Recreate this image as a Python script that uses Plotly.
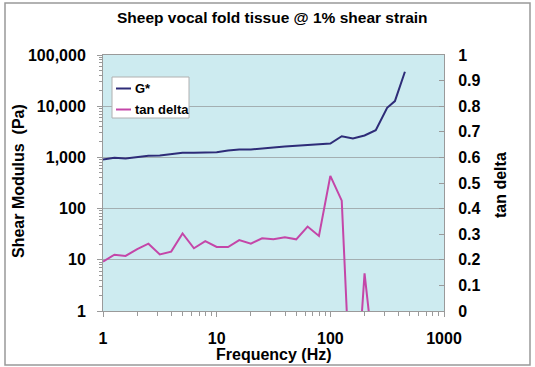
import plotly.graph_objects as go

# ---- data ----
freq_g = [1, 1.26, 1.58, 2, 2.51, 3.16, 3.98, 5.01, 6.31, 7.94, 10, 12.6, 15.8, 20,
          25.1, 31.6, 39.8, 50.1, 63.1, 79.4, 100, 126, 158, 200, 251, 316, 370, 453]
g_star = [910, 983, 952, 1024, 1072, 1089, 1140, 1230, 1230, 1250, 1260, 1365, 1427, 1427,
          1510, 1560, 1630, 1690, 1760, 1810, 1860, 2590, 2340, 2680, 3390, 9300, 12600, 47000]
freq_td = [1, 1.26, 1.58, 2, 2.51, 3.16, 3.98, 5.01, 6.31, 7.94, 10, 12.6, 15.8, 20,
           25.1, 31.6, 39.8, 50.1, 63.1, 79.4, 100, 126, 158, 200, 251]
tan_delta = [0.193, 0.22, 0.215, 0.242, 0.263, 0.221, 0.232, 0.303, 0.245, 0.273, 0.25, 0.25,
             0.277, 0.263, 0.284, 0.28, 0.288, 0.28, 0.33, 0.293, 0.528, 0.431, -0.53, 0.147, -0.25]
g_ticks = [1, 10, 100, 1000, 10000, 100000]
g_tick_text = ["1", "10", "100", "1,000", "10,000", "100,000"]
x_ticks = [1, 10, 100, 1000]
x_tick_text = ["1", "10", "100", "1000"]

G_COLOR = "#2E2C78"
TD_COLOR = "#C446A8"
AX = "#9A9A9A"
FONT = "Liberation Sans, Arial, sans-serif"

W, H = 535, 367
L, R, T, B = 103, 444, 55, 311
pw, ph = R - L, B - T


def px(x):
    return (x - L) / pw


def py(y):
    return (B - y) / ph


fig = go.Figure()
fig.add_trace(go.Scatter(x=freq_g, y=g_star, mode="lines", name="G*",
                         line=dict(color=G_COLOR, width=2), showlegend=False))
fig.add_trace(go.Scatter(x=freq_td, y=tan_delta, mode="lines", name="tan delta",
                         line=dict(color=TD_COLOR, width=2), yaxis="y2", showlegend=False))

tickfont = dict(family=FONT, size=16, color="#000", weight="bold")

fig.update_layout(
    width=W, height=H,
    margin=dict(l=L, r=W - R, t=T, b=H - B),
    paper_bgcolor="white",
    plot_bgcolor="#CDEBF0",
    xaxis=dict(type="log", range=[0, 3], tickvals=x_ticks, ticktext=x_tick_text,
               ticks="outside", ticklen=5, tickcolor=AX, showline=True, linecolor=AX,
               linewidth=1, mirror=True, showgrid=False, zeroline=False,
               tickfont=tickfont, ticklabelstandoff=8,
               minor=dict(ticks="outside", ticklen=4, tickcolor=AX, dtick="D1", showgrid=False)),
    yaxis=dict(type="log", range=[0, 5], tickvals=g_ticks, ticktext=g_tick_text,
               ticks="outside", ticklen=5, tickcolor=AX, showline=True, linecolor=AX,
               linewidth=1, showgrid=True, gridcolor="#A3AFB2", gridwidth=1,
               zeroline=False, tickfont=tickfont, ticklabelstandoff=8,
               minor=dict(ticks="outside", ticklen=3, tickcolor=AX, dtick="D1", showgrid=False)),
    yaxis2=dict(overlaying="y", side="right", range=[0, 1], dtick=0.1,
                ticks="inside", ticklen=5, tickcolor=AX, showline=True, linecolor=AX,
                linewidth=1, showgrid=False, zeroline=False, tickfont=tickfont,
                ticklabelstandoff=10),
)

ann = []
ann.append(dict(text="Sheep vocal fold tissue @ 1% shear strain", x=px(272), y=py(17),
                xref="paper", yref="paper", showarrow=False, xanchor="center", yanchor="middle",
                font=dict(family=FONT, size=15.5, color="#000", weight="bold")))
ann.append(dict(text="Shear Modulus  (Pa)", x=px(18), y=py(181), xref="paper", yref="paper",
                showarrow=False, textangle=-90, xanchor="center", yanchor="middle",
                font=dict(family=FONT, size=16, color="#000", weight="bold")))
ann.append(dict(text="tan delta", x=px(500), y=py(185), xref="paper", yref="paper",
                showarrow=False, textangle=-90, xanchor="center", yanchor="middle",
                font=dict(family=FONT, size=16, color="#000", weight="bold")))
ann.append(dict(text="Frequency (Hz)", x=px(274), y=py(354), xref="paper", yref="paper",
                showarrow=False, xanchor="center", yanchor="middle",
                font=dict(family=FONT, size=16, color="#000", weight="bold")))
# custom legend
legfont = dict(family=FONT, size=13, color="#000", weight="bold")
ann.append(dict(text="G*", x=px(133), y=py(88.5), xref="paper", yref="paper", showarrow=False,
                xanchor="left", yanchor="middle", font=legfont))
ann.append(dict(text="tan delta", x=px(133), y=py(109.5), xref="paper", yref="paper",
                showarrow=False, xanchor="left", yanchor="middle", font=legfont))

shapes = []
shapes.append(dict(type="rect", xref="paper", yref="paper", x0=px(5), x1=px(530),
                   y0=py(365), y1=py(3), line=dict(color="#999999", width=1.5)))
shapes.append(dict(type="rect", xref="paper", yref="paper", x0=px(112), x1=px(189),
                   y0=py(118), y1=py(77), fillcolor="white", line=dict(color="#B0B0B0", width=1)))
shapes.append(dict(type="line", xref="paper", yref="paper", x0=px(116), x1=px(131),
                   y0=py(88.5), y1=py(88.5), line=dict(color=G_COLOR, width=2)))
shapes.append(dict(type="line", xref="paper", yref="paper", x0=px(116), x1=px(131),
                   y0=py(109.5), y1=py(109.5), line=dict(color=TD_COLOR, width=2)))

fig.update_layout(annotations=ann, shapes=shapes)
fig.write_html("out.html", config={"displayModeBar": False},
               post_script="document.body.style.margin='0';document.body.style.padding='0';"
                           "document.documentElement.style.overflow='hidden';")
